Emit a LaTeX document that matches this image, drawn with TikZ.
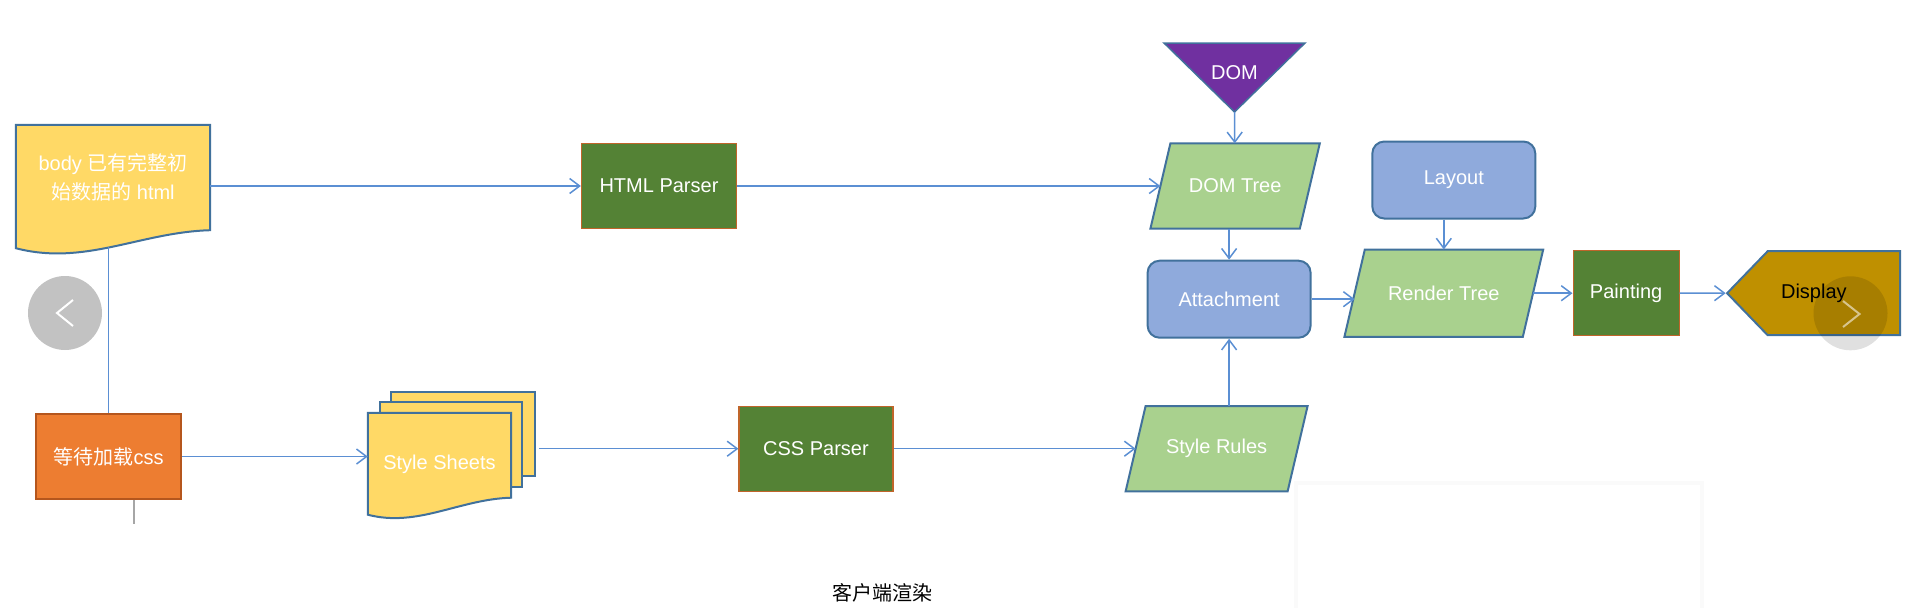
\documentclass[tikz,border=0pt]{standalone}
\usepackage{fontspec}
\setmainfont{Liberation Sans}
\newfontfamily\cjk{Noto Sans CJK SC}
\usetikzlibrary{positioning}
\usetikzlibrary{shapes.symbols}
\usetikzlibrary{arrows.meta}
\usetikzlibrary{backgrounds}

\definecolor{linkblue}{HTML}{5B8FD3}
\definecolor{edgeblue}{HTML}{41719C}
\definecolor{docyellow}{HTML}{FFD966}
\definecolor{parsegreen}{HTML}{548235}
\definecolor{parseedge}{HTML}{C0652A}
\definecolor{treegreen}{HTML}{A9D18E}
\definecolor{stepblue}{HTML}{8FAADC}
\definecolor{waitorange}{HTML}{ED7D31}
\definecolor{waitedge}{HTML}{B5561D}
\definecolor{dompurple}{HTML}{7030A0}
\definecolor{showgold}{HTML}{BF9000}
\definecolor{navgray}{HTML}{C2C2C2}

\begin{document}
\begin{tikzpicture}[
                            x=1pt, y=-1pt,
                            node distance=30pt,
                            labeltext/.style={text=white, font=\fontsize{20}{29}\selectfont, align=center},
                            parser/.style={labeltext, rectangle, fill=parsegreen, draw=parseedge, line width=1.2pt, minimum width=155pt, minimum height=85pt},
                            tree/.style={labeltext, rectangle, inner sep=0pt, minimum height=85pt},
                            treeline/.style={fill=treegreen, draw=edgeblue, line width=2pt},
                            stage/.style={labeltext, rectangle, rounded corners=12pt, fill=stepblue, draw=edgeblue, line width=2pt, minimum width=163pt, minimum height=77pt},
                            waitbox/.style={labeltext, rectangle, fill=waitorange, draw=waitedge, line width=1.5pt, minimum width=145pt, minimum height=85pt},
                            screen/.style={labeltext, text=black, signal, signal to=west, signal pointer angle=92, fill=showgold, draw=edgeblue, line width=2pt, minimum width=173pt, minimum height=84pt},
                            docbody/.style={labeltext, rectangle, inner sep=0pt},
                            docline/.style={fill=docyellow, draw=edgeblue, line width=2pt},
                            link/.style={draw=linkblue, line width=1.5pt, -{Straight Barb[length=10pt,width=15pt]}},
                            plainlink/.style={draw=linkblue, line width=1.5pt},
                            stubline/.style={draw=black!35, line width=1.5pt}
                            ]
                            \useasboundingbox (0,0) rectangle (1918,608);

                            \node[docbody, minimum width=194pt, minimum height=105pt] (htmlDoc) at (113,177.5) {body {\cjk 已有完整初}\\{\cjk 始数据的} html};
                            \node[parser]                                          (htmlParser) at (659,186) {HTML Parser};
                            \node[tree, minimum width=149pt, right=423.3pt of htmlParser] (domTree)   {DOM Tree};
                            \node[stage, below=31pt of domTree, xshift=-6pt]         (attachment)  {Attachment};
                            \node[tree, minimum width=178pt, minimum height=87pt, right=43pt of attachment, yshift=6pt] (renderTree) {Render Tree};
                            \node[stage, above=30pt of renderTree, xshift=10pt]      (layout)      {Layout};
                            \node[parser, minimum width=106pt, right=39.5pt of renderTree] (painting) {Painting};
                            \node[screen, right=46pt of painting]                   (display)     {\hspace*{-40pt}Display};

                            \node[waitbox]                                         (waitCss) at (108.5,456.5) {{\cjk 等待加载}css};
                            \node[docbody, minimum width=143pt, minimum height=103pt, right=186pt of waitCss, yshift=-8pt] (sheets) {Style Sheets};
                            \node[parser, minimum width=154pt]                     (cssParser) at (816,448.7) {CSS Parser};
                            \node[tree, minimum width=161.6pt, right=242pt of cssParser]  (styleRules)  {Style Rules};

                            \node[labeltext]                                       (dom) at (1234.5,72.5) {DOM};
                            \coordinate (domTip) at (1234.5,112);
                            \coordinate (sheetsOut) at ([xshift=28pt]sheets.east |- cssParser.west);

                            \begin{scope}[on background layer]
                            \draw[docline] ([yshift=-18pt]htmlDoc.south west) .. controls +(69,18) and +(-70,2) .. (htmlDoc.south east) -- (htmlDoc.north east) -- (htmlDoc.north west) -- cycle;
                            \draw[docline] ([xshift=23pt,yshift=21.3pt]sheets.north west) rectangle ++(144,84.3);
                            \draw[docline] ([xshift=12pt,yshift=10.5pt]sheets.north west) rectangle ++(142.6,84.2);
                            \draw[docline] ([yshift=1.5pt]sheets.south west) .. controls +(50,13) and +(-52,1.5) .. ([yshift=18.5pt]sheets.south east) -- (sheets.north east) -- (sheets.north west) -- cycle;
                            \draw[fill=dompurple, draw=edgeblue, line width=1.5pt] (1164,43) -- (1305,43) -- (domTip) -- cycle;
                            \draw[treeline] ([xshift=-10pt]domTree.south west) -- ([xshift=-10pt]domTree.south east) -- ([xshift=10pt]domTree.north east) -- ([xshift=10pt]domTree.north west) -- cycle;
                            \draw[treeline] ([xshift=-10pt]styleRules.south west) -- ([xshift=-10pt]styleRules.south east) -- ([xshift=10pt]styleRules.north east) -- ([xshift=10pt]styleRules.north west) -- cycle;
                            \draw[treeline] ([xshift=-10.2pt]renderTree.south west) -- ([xshift=-10.2pt]renderTree.south east) -- ([xshift=10.2pt]renderTree.north east) -- ([xshift=10.2pt]renderTree.north west) -- cycle;
                            \end{scope}

                            \draw[link]      (htmlDoc.east |- htmlParser.west) -- (htmlParser.west);
                            \draw[link]      (htmlParser) -- (domTree);
                            \draw[link]      (domTip) -- (domTree);
                            \draw[link]      (attachment.north |- domTree.south) -- (attachment.north);
                            \draw[link]      (attachment.east) -- (attachment.east -| renderTree.west);
                            \draw[link]      (renderTree.north |- layout.south) -- (renderTree.north);
                            \draw[link]      (renderTree) -- (painting);
                            \draw[link]      (painting) -- (display);
                            \draw[plainlink] ([yshift=-17pt]waitCss.north |- htmlDoc.south) -- (waitCss.north);
                            \draw[link]      (waitCss.east) -- (waitCss.east -| sheets.west);
                            \draw[link]      (sheetsOut) -- (cssParser.west);
                            \draw[link]      (cssParser) -- (styleRules);
                            \draw[link]      (attachment.south |- styleRules.north) -- (attachment.south);
                            \draw[stubline]  ([xshift=25.5pt]waitCss.south) -- ++(0,24);

                            % slide controls and overlay
                            \fill[navgray] (65,313) circle[radius=37];
                            \draw[white, line width=2pt] (73,300) -- (57,313) -- (73,326);
                            \fill[black, opacity=0.12] (1850.5,313.3) circle[radius=37];
                            \draw[white, opacity=0.55, line width=2pt] (1843,301) -- (1859.5,314) -- (1843,327);
                            \fill[black!2] (1294,481) rectangle (1704,608);
                            \fill[white] (1298.4,484.8) rectangle (1700.3,608);

                            \node[font={\fontsize{20}{24}\selectfont\cjk}] (caption) at (882,593) {客户端渲染};
                        \end{tikzpicture}
\end{document}
